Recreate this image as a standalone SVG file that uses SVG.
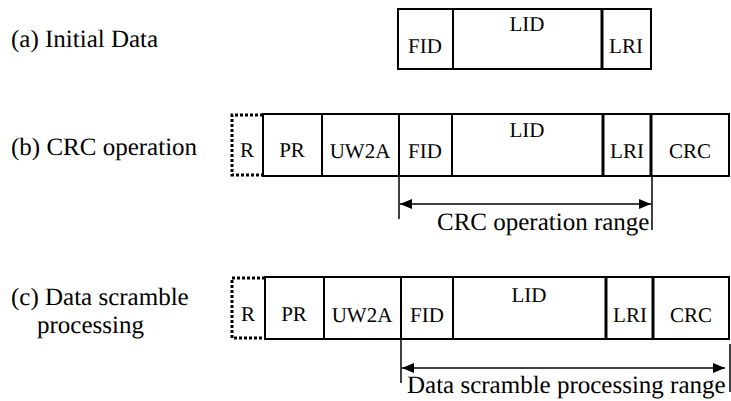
<svg xmlns="http://www.w3.org/2000/svg" width="731" height="401" viewBox="0 0 731 401" font-family="'Times New Roman', 'Liberation Serif', serif" text-rendering="geometricPrecision">
<defs>
<marker id="ah" viewBox="0 0 12 10" refX="12" refY="5" markerWidth="12" markerHeight="10" markerUnits="userSpaceOnUse" orient="auto-start-reverse">
<path d="M0,0 L12,5 L0,10 Z" fill="#000"/>
</marker>
</defs>
<style>
text{font-family:"Times New Roman","Liberation Serif",serif;fill:#000}
.lbl{font-size:25px}
.bx{font-size:21px;text-anchor:middle}
.box{fill:#fff;stroke:#000;stroke-width:2}
.thick{stroke:#000;stroke-width:3}
.div{stroke:#000;stroke-width:2}
.dot{fill:none;stroke:#000;stroke-width:3;stroke-dasharray:3 2}
.thin{stroke:#000;stroke-width:1.5;fill:none}
</style>
<rect width="731" height="401" fill="#fff"/>

<g id="labels">
<text class="lbl" x="11" y="47">(a) Initial Data</text>
<text class="lbl" x="11" y="155">(b) CRC operation</text>
<text class="lbl" x="11" y="305">(c) Data scramble</text>
<text class="lbl" x="37" y="333">processing</text>
</g>

<g id="row-a">
<rect class="box" x="398" y="9" width="253" height="60"/>
<line class="div" x1="453" y1="9" x2="453" y2="69"/>
<line class="thick" x1="602" y1="9" x2="602" y2="69"/>
<text class="bx" x="425" y="53">FID</text>
<text class="bx" x="527" y="31">LID</text>
<text class="bx" x="626" y="53">LRI</text>
</g>

<g id="row-b">
<path class="dot" d="M263,115 H232 V175 H263"/>
<rect class="box" x="263" y="114" width="466" height="62"/>
<line class="div" x1="322" y1="114" x2="322" y2="176"/>
<line class="div" x1="399" y1="114" x2="399" y2="176"/>
<line class="div" x1="452" y1="114" x2="452" y2="176"/>
<line class="thick" x1="603" y1="114" x2="603" y2="176"/>
<line class="thick" x1="651" y1="114" x2="651" y2="176"/>
<text class="bx" x="247" y="157">R</text>
<text class="bx" x="292" y="157">PR</text>
<text class="bx" x="360" y="158">UW2A</text>
<text class="bx" x="425" y="158">FID</text>
<text class="bx" x="527" y="137">LID</text>
<text class="bx" x="627" y="158">LRI</text>
<text class="bx" x="690" y="158">CRC</text>
</g>

<g id="row-c">
<path class="dot" d="M265,278 H232 V338 H265"/>
<rect class="box" x="265" y="277" width="464" height="62"/>
<line class="div" x1="324" y1="277" x2="324" y2="339"/>
<line class="div" x1="401" y1="277" x2="401" y2="339"/>
<line class="div" x1="453" y1="277" x2="453" y2="339"/>
<line class="thick" x1="606" y1="277" x2="606" y2="339"/>
<line class="thick" x1="653" y1="277" x2="653" y2="339"/>
<text class="bx" x="248" y="321">R</text>
<text class="bx" x="294" y="321">PR</text>
<text class="bx" x="362" y="322">UW2A</text>
<text class="bx" x="427" y="322">FID</text>
<text class="bx" x="529" y="302">LID</text>
<text class="bx" x="630" y="322">LRI</text>
<text class="bx" x="691" y="322">CRC</text>
</g>

<g id="connectors">
<line class="thin" x1="399" y1="176" x2="399" y2="219"/>
<line class="thin" x1="652" y1="176" x2="652" y2="230"/>
<line class="thin" x1="400" y1="204" x2="651" y2="204" marker-start="url(#ah)" marker-end="url(#ah)"/>
<line class="thin" x1="401" y1="339" x2="401" y2="383"/>
<line class="thin" x1="730" y1="344" x2="730" y2="392"/>
<line class="thin" x1="402" y1="368" x2="725" y2="368" marker-start="url(#ah)" marker-end="url(#ah)"/>
</g>

<g id="range-labels">
<text class="lbl" x="437" y="230">CRC operation range</text>
<text class="lbl" x="407" y="393">Data scramble processing range</text>
</g>
</svg>
